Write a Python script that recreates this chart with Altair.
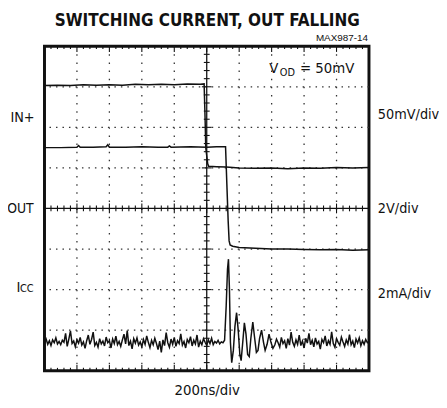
import altair as alt
import numpy as np
import pandas as pd

# ---------------- text ----------------
TITLE = "SWITCHING CURRENT, OUT FALLING"
FIG_ID = "MAX987-14"
X_LABEL = "200ns/div"
CH_LABELS = ["IN+", "OUT"]
ICC_MAIN, ICC_SUB = "I", "CC"
SCALE_LABELS = ["50mV/div", "2V/div", "2mA/div"]
VOD_MAIN, VOD_SUB, VOD_REST = "V", "OD", "= 50mV"

# ---------------- traces (x: time divisions 0..10, y: vertical divisions -4..4) ----------------
in_x = [0, 0.4, 0.8, 1.2, 1.6, 2.0, 2.4, 2.8, 3.2, 3.6, 4.0, 4.4, 4.8, 4.92, 4.95, 4.97, 5.03,
        5.06, 5.3, 5.6, 6.0, 6.5, 7.0, 7.5, 8.0, 8.5, 9.0, 9.5, 10.0]
in_y = [3.03, 3.04, 3.03, 3.05, 3.04, 3.05, 3.04, 3.06, 3.05, 3.06, 3.05, 3.07, 3.06, 3.07, 2.2,
        1.5, 1.1, 1.04, 1.03, 1.02, 1.0, 0.99, 1.0, 0.98, 1.0, 0.99, 1.01, 1.0, 1.01]

out_x = [0, 0.5, 1.0, 1.05, 1.1, 1.5, 1.9, 1.95, 2.0, 2.5, 3.0, 3.5, 3.8, 3.85, 3.9, 4.5, 5.0,
         5.3, 5.58, 5.62, 5.66, 5.69, 5.72, 5.8, 6.0, 6.5, 7.0, 7.5, 8.0, 8.5, 9.0, 9.5, 10.0]
out_y = [1.50, 1.50, 1.51, 1.55, 1.51, 1.51, 1.52, 1.57, 1.51, 1.51, 1.52, 1.51, 1.51, 1.54,
         1.51, 1.52, 1.51, 1.52, 1.52, 0.6, -0.3, -0.8, -0.9, -0.93, -0.96, -0.98, -1.0, -1.0,
         -1.01, -1.02, -1.01, -1.03, -1.02]

icc_left_y = [
    -3.30, -3.22, -3.35, -3.26, -3.38, -3.24, -3.31, -3.19, -3.34, -3.28,
    -3.36, -3.25, -3.30, -3.08, -3.40, -3.22, -3.02, -3.33, -3.27, -3.41,
    -3.24, -3.32, -3.18, -3.37, -3.29, -3.45, -3.26, -3.12, -3.35, -3.23,
    -3.05, -3.38, -3.30, -3.42, -3.21, -3.34, -3.27, -3.39, -3.17, -3.31,
    -3.26, -3.44, -3.22, -3.33, -3.15, -3.36, -3.28, -3.40, -3.24, -3.10,
    -3.34, -3.01, -3.38, -3.27, -3.46, -3.21, -3.32, -3.19, -3.37, -3.29,
    -3.41, -3.23, -3.35, -3.14, -3.30, -3.43, -3.25, -3.36, -3.20, -3.33,
    -3.48, -3.27, -3.55, -3.24, -3.38, -3.06, -3.31, -3.42, -3.22, -3.35,
    -3.18, -3.40, -3.26, -3.33, -3.09, -3.37, -3.28, -3.44, -3.23, -3.31,
    -3.16, -3.39, -3.25, -3.34, -3.12, -3.42, -3.27, -3.36, -3.21, -3.30,
    -3.38, -3.24, -3.33, -3.20, -3.36, -3.28, -3.32, -3.25, -3.34, -3.29,
    -3.31]
icc_spike_x = [5.55, 5.60, 5.64, 5.67, 5.70, 5.73, 5.77, 5.82, 5.87, 5.92, 5.97, 6.02, 6.06,
               6.11, 6.16, 6.21, 6.26, 6.31, 6.36, 6.42, 6.47, 6.53, 6.58, 6.63, 6.69, 6.75,
               6.80, 6.86, 6.92, 6.98, 7.04]
icc_spike_y = [-3.25, -2.4, -1.5, -1.25, -2.0, -3.3, -3.8, -3.5, -2.9, -2.57, -3.0, -3.6, -3.75,
               -3.3, -2.82, -3.1, -3.6, -3.65, -3.2, -2.8, -3.15, -3.55, -3.5, -3.2, -3.0, -3.3,
               -3.5, -3.35, -3.1, -3.3, -3.45]
icc_right_y = [
    -3.36, -3.22, -3.31, -3.42, -3.18, -3.33, -3.26, -3.45, -3.21, -3.37,
    -3.05, -3.30, -3.40, -3.24, -3.35, -3.12, -3.38, -3.27, -3.44, -3.20,
    -3.32, -3.08, -3.36, -3.25, -3.41, -3.19, -3.34, -3.28, -3.47, -3.23,
    -3.31, -3.14, -3.39, -3.26, -3.35, -3.04, -3.33, -3.42, -3.21, -3.30,
    -3.37, -3.17, -3.29, -3.40, -3.24, -3.34, -3.11, -3.36, -3.27, -3.43,
    -3.22, -3.32, -3.19, -3.38, -3.26, -3.35, -3.23, -3.31, -3.28]

# sample time bases for the noise segments
icc_left_x = list(np.round(np.arange(0, 5.5001, 0.05), 3))
icc_right_x = list(np.round(np.arange(7.1, 10.0001, 0.05), 3))
icc_x = icc_left_x + icc_spike_x + icc_right_x
icc_y = icc_left_y + icc_spike_y + icc_right_y

traces = pd.concat([
    pd.DataFrame({"trace": "IN+", "x": in_x, "y": in_y, "i": range(len(in_x))}),
    pd.DataFrame({"trace": "OUT", "x": out_x, "y": out_y, "i": range(len(out_x))}),
    pd.DataFrame({"trace": "ICC", "x": icc_x, "y": icc_y, "i": range(len(icc_x))}),
])

# ---------------- graticule ----------------
XS = alt.Scale(domain=[0, 10], nice=False, zero=False)
YS = alt.Scale(domain=[-4, 4], nice=False, zero=False)

W = H = 329
COND = "DejaVu Sans Condensed, Liberation Sans Narrow, sans-serif"
REG = "Liberation Sans, Arial, sans-serif"

vgrid = pd.DataFrame({"x": [1, 2, 3, 4, 6, 7, 8, 9]})
hgrid = pd.DataFrame({"y": [-3, -2, -1, 1, 2, 3]})

vgrid_layer = alt.Chart(vgrid).mark_rule(color="#333", strokeWidth=1.3, strokeDash=[1.5, 6.73]).encode(
    x=alt.X("x:Q", scale=XS, axis=None))
hgrid_layer = alt.Chart(hgrid).mark_rule(color="#333", strokeWidth=1.3, strokeDash=[1.5, 5.08]).encode(
    y=alt.Y("y:Q", scale=YS, axis=None))

center = pd.DataFrame({"x": [0, 5], "x2": [10, 5], "y": [0, -4], "y2": [0, 4]})
center_layer = alt.Chart(center).mark_rule(color="#111", strokeWidth=1.3).encode(
    x=alt.X("x:Q", scale=XS, axis=None), x2="x2:Q",
    y=alt.Y("y:Q", scale=YS, axis=None), y2="y2:Q")

tx = np.round(np.arange(0.2, 9.81, 0.2), 2)
ty = np.round(np.arange(-3.8, 3.81, 0.2), 2)
tick_rows = []
for v in tx:
    major = abs(v - round(v)) < 1e-6
    h = 0.12 if major else 0.07
    tick_rows.append((v, v, -h, h))                       # on horizontal centre line
    tick_rows.append((v, v, 4, 4 - (0.14 if major else 0.07)))   # top edge
    tick_rows.append((v, v, -4, -4 + (0.14 if major else 0.07)))  # bottom edge
for v in ty:
    major = abs(v - round(v)) < 1e-6
    w = 0.15 if major else 0.09
    tick_rows.append((5 - w, 5 + w, v, v))               # on vertical centre line
ticks = pd.DataFrame(tick_rows, columns=["x", "x2", "y", "y2"])
tick_layer = alt.Chart(ticks).mark_rule(color="#111", strokeWidth=1.1).encode(
    x=alt.X("x:Q", scale=XS, axis=None), x2="x2:Q",
    y=alt.Y("y:Q", scale=YS, axis=None), y2="y2:Q")

trace_layer = alt.Chart(traces).mark_line(color="#111", strokeWidth=1.5).encode(
    x=alt.X("x:Q", scale=XS, axis=None),
    y=alt.Y("y:Q", scale=YS, axis=None),
    detail="trace:N",
    order="i:Q")


def txt(s, x, y, size, align="left", baseline="alphabetic", weight="normal", font=COND):
    return alt.Chart(pd.DataFrame({"t": [s]})).mark_text(
        align=align, baseline=baseline, fontSize=size, fontWeight=weight, font=font, color="#111"
    ).encode(text="t:N", x=alt.value(x), y=alt.value(y))


texts = [
    txt(TITLE, 165, -20, 17.2, align="center", weight="bold"),
    txt(FIG_ID, 328, -5, 10, align="right", font=REG),
    txt(VOD_MAIN, 228, 27, 15),
    txt(VOD_SUB, 238.5, 30, 11),
    txt(VOD_REST, 259, 27, 15),
    txt(CH_LABELS[0], -10, 73, 14.5, align="right", baseline="middle"),
    txt(CH_LABELS[1], -11, 165, 14, align="right", baseline="middle"),
    txt(ICC_SUB, -11, 249, 11, align="right"),
    txt(ICC_MAIN, -24.5, 249, 15, align="right"),
    txt(SCALE_LABELS[0], 338, 70, 14.5, baseline="middle"),
    txt(SCALE_LABELS[1], 338, 165, 14.5, baseline="middle"),
    txt(SCALE_LABELS[2], 338, 251, 14.5, baseline="middle"),
    txt(X_LABEL, 165, 349, 15, align="center", baseline="middle"),
]

chart = alt.layer(vgrid_layer, hgrid_layer, center_layer, tick_layer, trace_layer, *texts).properties(
    width=W, height=H,
    padding={"left": 37, "top": 36, "right": 71, "bottom": 30},
    autosize=alt.AutoSizeParams(type="none"),
).configure_view(stroke="#111", strokeWidth=3)

chart.save("out.html", embed_options={"renderer": "svg", "actions": False})
